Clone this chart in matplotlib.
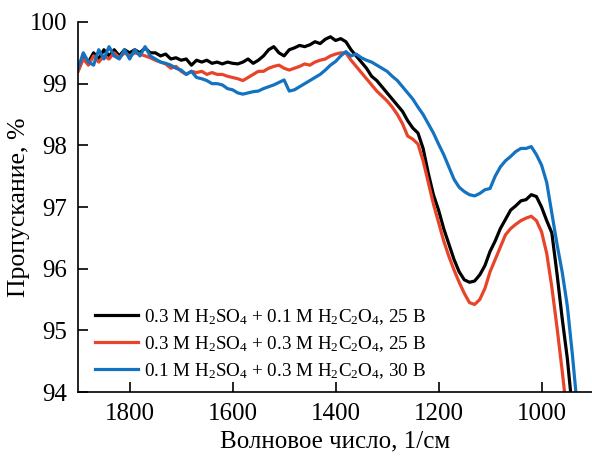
import matplotlib
matplotlib.use("Agg")
import matplotlib.pyplot as plt
import numpy as np

plt.rcParams['font.family'] = ['Liberation Serif', 'DejaVu Serif']
plt.rcParams['mathtext.fontset'] = 'custom'
plt.rcParams['mathtext.rm'] = 'Liberation Serif'
plt.rcParams['mathtext.default'] = 'regular'

wavenumber = list(range(1900, 925, -10))

black = [99.25, 99.45, 99.35, 99.5, 99.4, 99.55, 99.45, 99.55, 99.45, 99.55,
         99.5, 99.55, 99.5, 99.58, 99.5, 99.5, 99.45, 99.48, 99.4, 99.42,
         99.38, 99.4, 99.3, 99.38, 99.35, 99.38, 99.33, 99.35, 99.32, 99.35,
         99.33, 99.32, 99.35, 99.4, 99.33, 99.38, 99.45, 99.55, 99.6, 99.5,
         99.45, 99.55, 99.58, 99.62, 99.6, 99.63, 99.68, 99.65, 99.72, 99.76,
         99.7, 99.73, 99.68, 99.55, 99.45, 99.35, 99.25, 99.12, 99.05, 98.95,
         98.85, 98.75, 98.65, 98.55, 98.4, 98.28, 98.2, 97.95, 97.55, 97.2,
         96.95, 96.65, 96.4, 96.15, 95.95, 95.82, 95.78, 95.8, 95.9, 96.05,
         96.28, 96.45, 96.65, 96.8, 96.95, 97.02, 97.1, 97.12, 97.2, 97.17,
         97.0, 96.78, 96.58, 95.92, 95.2, 94.55, 93.7, 92.8]

red = [99.2, 99.4, 99.3, 99.45, 99.35, 99.45, 99.4, 99.5, 99.42, 99.5,
       99.45, 99.5, 99.48, 99.45, 99.42, 99.38, 99.35, 99.32, 99.25, 99.28,
       99.2, 99.15, 99.2, 99.18, 99.2, 99.15, 99.18, 99.15, 99.15, 99.12,
       99.1, 99.08, 99.05, 99.1, 99.15, 99.2, 99.2, 99.25, 99.28, 99.3,
       99.25, 99.22, 99.25, 99.28, 99.32, 99.3, 99.35, 99.38, 99.4, 99.45,
       99.48, 99.5, 99.5, 99.38, 99.28, 99.18, 99.08, 98.98, 98.88, 98.8,
       98.72, 98.62, 98.5, 98.35, 98.15, 98.1, 98.02, 97.75, 97.4, 97.05,
       96.75, 96.45, 96.2, 95.98, 95.78, 95.6, 95.45, 95.42, 95.5, 95.68,
       95.95, 96.15, 96.35, 96.55, 96.65, 96.72, 96.78, 96.82, 96.85, 96.78,
       96.6, 96.25, 95.7, 95.05, 94.35, 93.6, 92.8, 92.0]

blue = [99.25, 99.5, 99.35, 99.3, 99.55, 99.4, 99.6, 99.45, 99.4, 99.55,
        99.4, 99.55, 99.45, 99.6, 99.45, 99.4, 99.35, 99.33, 99.3, 99.25,
        99.22, 99.15, 99.2, 99.1, 99.08, 99.05, 99.0, 99.0, 98.98, 98.92,
        98.9, 98.85, 98.83, 98.85, 98.87, 98.88, 98.92, 98.95, 98.98, 99.02,
        99.06, 98.88, 98.9, 98.95, 99.0, 99.05, 99.1, 99.15, 99.22, 99.3,
        99.36, 99.45, 99.52, 99.45, 99.48, 99.42, 99.38, 99.35, 99.3, 99.25,
        99.2, 99.12, 99.05, 98.95, 98.85, 98.75, 98.62, 98.5, 98.35, 98.2,
        98.02, 97.85, 97.65, 97.45, 97.32, 97.25, 97.2, 97.18, 97.22, 97.28,
        97.3, 97.5, 97.65, 97.75, 97.82, 97.9, 97.95, 97.95, 97.98, 97.85,
        97.68, 97.4, 96.9, 96.4, 95.95, 95.4, 94.6, 93.7]

labels = [r'0.3 M H$_2$SO$_4$ + 0.1 M H$_2$C$_2$O$_4$, 25 В',
          r'0.3 M H$_2$SO$_4$ + 0.3 M H$_2$C$_2$O$_4$, 25 В',
          r'0.1 M H$_2$SO$_4$ + 0.3 M H$_2$C$_2$O$_4$, 30 В']
colors = ['#000000', '#E8442A', '#1473C0']
series = [black, red, blue]

fig = plt.figure(figsize=(5.92, 4.58), dpi=100)
ax = fig.add_axes([0.132, 0.144, 0.868, 0.808])

for y, c, lab in zip(series, colors, labels):
    ax.plot(wavenumber, y, color=c, lw=2.3, label=lab)

ax.set_xlim(1900, 902)
ax.set_ylim(94, 100)
ax.set_xticks([1800, 1600, 1400, 1200, 1000])
ax.set_yticks([94, 95, 96, 97, 98, 99, 100])
ax.spines['top'].set_visible(False)
ax.spines['right'].set_visible(False)
for s in ['left', 'bottom']:
    ax.spines[s].set_linewidth(1.2)
ax.tick_params(direction='in', length=7, width=1.2, labelsize=18, pad=8)
ax.tick_params(axis='y', pad=8)

ax.set_xlabel('Волновое число, 1/см', fontsize=18, labelpad=4)
ax.set_ylabel('Пропускание, %', fontsize=18.5, labelpad=0)

leg = ax.legend(loc='lower left', bbox_to_anchor=(0.033, 0.03), frameon=False,
                fontsize=13.7, handlelength=2.25, handletextpad=0.3,
                labelspacing=0.38, borderaxespad=0, borderpad=0)

fig.savefig('out.png', dpi=100)
